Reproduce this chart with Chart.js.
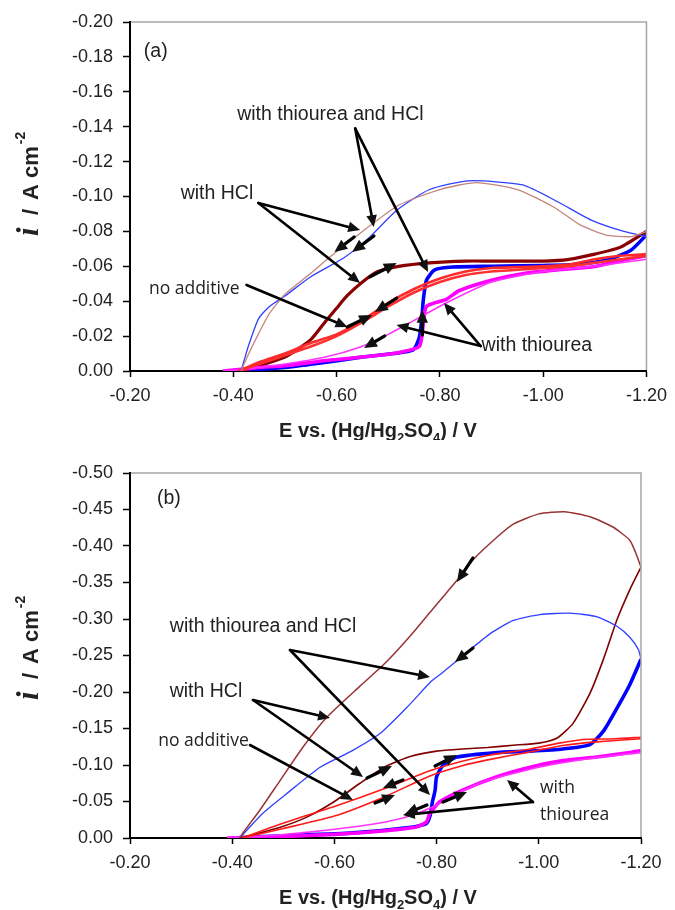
<!DOCTYPE html>
<html>
<head>
<meta charset="utf-8">
<script src="https://cdn.jsdelivr.net/npm/chart.js@4.4.1/dist/chart.umd.min.js"></script>
<style>
  html, body { margin: 0; padding: 0; background: #fff; }
  #wrap { position: relative; width: 675px; height: 910px; }
  canvas { position: absolute; left: 0; }
  #chartA { top: 0; }
  #chartB { top: 440px; }
</style>
</head>
<body>
<div id="wrap">
  <canvas id="chartA" width="675" height="440"></canvas>
  <canvas id="chartB" width="675" height="470"></canvas>
</div>
<script>
// ---------- panel (a): E / V and i / A cm-2 ----------
const aNoAddFwdE = [-0.41, -0.45, -0.50, -0.55, -0.60, -0.65, -0.70, -0.75, -0.80, -0.85, -0.90, -0.95, -1.00, -1.05, -1.10, -1.15, -1.20];
const aNoAddFwdI = [0.000, -0.005, -0.010, -0.016, -0.021, -0.029, -0.039, -0.047, -0.053, -0.057, -0.059, -0.0595, -0.060, -0.061, -0.064, -0.066, -0.067];
const aNoAddRevE = [-1.20, -1.15, -1.10, -1.05, -1.00, -0.95, -0.90, -0.85, -0.80, -0.75, -0.70, -0.65, -0.60, -0.55, -0.50, -0.45, -0.41];
const aNoAddRevI = [-0.066, -0.064, -0.062, -0.060, -0.059, -0.058, -0.057, -0.055, -0.051, -0.045, -0.037, -0.028, -0.020, -0.014, -0.009, -0.004, 0.000];

const aHclFwdE = [-0.42, -0.45, -0.50, -0.55, -0.58, -0.60, -0.62, -0.65, -0.68, -0.72, -0.78, -0.85, -0.90, -1.00, -1.05, -1.10, -1.15, -1.20];
const aHclFwdI = [0.000, -0.003, -0.008, -0.018, -0.029, -0.036, -0.043, -0.051, -0.057, -0.060, -0.062, -0.063, -0.063, -0.063, -0.064, -0.067, -0.071, -0.080];
const aHclRevE = [-1.20, -1.17, -1.12, -1.07, -1.02, -0.95, -0.87, -0.80, -0.72, -0.65, -0.59, -0.55, -0.50, -0.47, -0.45, -0.43, -0.415];
const aHclRevI = [-0.080, -0.077, -0.078, -0.084, -0.094, -0.104, -0.108, -0.104, -0.095, -0.080, -0.066, -0.056, -0.044, -0.033, -0.022, -0.010, 0.000];

const aThioFwdE = [-0.38, -0.45, -0.50, -0.58, -0.65, -0.71, -0.76, -0.768, -0.774, -0.812, -0.837, -0.90, -0.965, -1.028, -1.093, -1.156, -1.20];
const aThioFwdI = [0.000, -0.002, -0.003, -0.006, -0.008, -0.010, -0.014, -0.0275, -0.037, -0.041, -0.046, -0.052, -0.056, -0.058, -0.0596, -0.0636, -0.066];
const aThioRevE = [-1.20, -1.10, -1.00, -0.90, -0.812, -0.741, -0.70, -0.646, -0.578, -0.50, -0.42, -0.38];
const aThioRevI = [-0.064, -0.060, -0.057, -0.051, -0.039, -0.0275, -0.021, -0.0138, -0.008, -0.004, -0.001, 0.000];

const aThioHclFwdE = [-0.40, -0.45, -0.50, -0.58, -0.65, -0.71, -0.748, -0.76, -0.765, -0.768, -0.774, -0.79, -0.825, -0.90, -1.00, -1.06, -1.123, -1.169, -1.20];
const aThioHclFwdI = [0.000, -0.001, -0.002, -0.005, -0.008, -0.010, -0.012, -0.019, -0.030, -0.041, -0.052, -0.058, -0.0596, -0.060, -0.0605, -0.061, -0.0636, -0.069, -0.078];
const aThioHclRevE = [-1.20, -1.156, -1.093, -1.028, -0.96, -0.856, -0.78, -0.716, -0.665, -0.615, -0.55, -0.50, -0.47, -0.449, -0.43, -0.42, -0.415];
const aThioHclRevI = [-0.077, -0.080, -0.0865, -0.097, -0.1066, -0.109, -0.104, -0.092, -0.077, -0.065, -0.054, -0.043, -0.037, -0.030, -0.015, -0.005, 0.000];

// ---------- panel (b) ----------
const bNoAddFwdE = [-0.42, -0.50, -0.60, -0.70, -0.787, -0.85, -0.90, -0.983, -1.05, -1.10, -1.20];
const bNoAddFwdI = [0.000, -0.013, -0.030, -0.057, -0.085, -0.099, -0.107, -0.118, -0.127, -0.131, -0.136];
const bNoAddRevE = [-1.20, -1.15, -1.087, -1.04, -0.983, -0.90, -0.85, -0.787, -0.70, -0.60, -0.52, -0.47, -0.42];
const bNoAddRevI = [-0.138, -0.136, -0.135, -0.130, -0.122, -0.113, -0.105, -0.092, -0.068, -0.043, -0.025, -0.013, 0.000];

const bHclFwdE = [-0.415, -0.45, -0.50, -0.55, -0.60, -0.65, -0.70, -0.75, -0.80, -0.85, -0.90, -0.95, -1.00, -1.036, -1.067, -1.10, -1.126, -1.153, -1.178, -1.20];
const bHclFwdI = [0.000, -0.006, -0.016, -0.030, -0.050, -0.075, -0.098, -0.112, -0.119, -0.122, -0.124, -0.127, -0.130, -0.137, -0.157, -0.198, -0.244, -0.299, -0.340, -0.371];
const bHclRevE = [-1.20, -1.19, -1.178, -1.145, -1.10, -1.05, -1.00, -0.95, -0.918, -0.871, -0.84, -0.80, -0.75, -0.70, -0.65, -0.586, -0.539, -0.494, -0.454, -0.421, -0.415];
const bHclRevI = [-0.371, -0.390, -0.408, -0.426, -0.440, -0.447, -0.444, -0.430, -0.412, -0.381, -0.353, -0.320, -0.278, -0.240, -0.208, -0.166, -0.125, -0.079, -0.038, -0.007, 0.000];

const bThioFwdE = [-0.39, -0.50, -0.60, -0.70, -0.76, -0.78, -0.787, -0.807, -0.852, -0.918, -0.983, -1.047, -1.114, -1.178, -1.20];
const bThioFwdI = [0.000, -0.002, -0.005, -0.010, -0.015, -0.022, -0.034, -0.050, -0.066, -0.084, -0.097, -0.106, -0.111, -0.117, -0.120];
const bThioRevE = [-1.20, -1.10, -1.00, -0.90, -0.85, -0.80, -0.742, -0.70, -0.636, -0.55, -0.45, -0.39];
const bThioRevI = [-0.117, -0.109, -0.097, -0.079, -0.064, -0.045, -0.029, -0.022, -0.015, -0.008, -0.002, 0.000];

const bThioHclFwdE = [-0.40, -0.50, -0.636, -0.754, -0.78, -0.787, -0.792, -0.797, -0.80, -0.813, -0.84, -0.918, -0.983, -1.047, -1.10, -1.126, -1.153, -1.178, -1.20];
const bThioHclFwdI = [0.000, -0.003, -0.007, -0.015, -0.020, -0.030, -0.050, -0.065, -0.084, -0.100, -0.111, -0.117, -0.119, -0.122, -0.128, -0.146, -0.178, -0.210, -0.245];
const bThioHclRevE = [-1.20, -1.195, -1.178, -1.153, -1.114, -1.061, -1.002, -0.95, -0.905, -0.852, -0.807, -0.79, -0.742, -0.689, -0.636, -0.572, -0.507, -0.46, -0.429, -0.415];
const bThioHclRevI = [-0.245, -0.258, -0.275, -0.290, -0.303, -0.308, -0.306, -0.298, -0.280, -0.250, -0.224, -0.215, -0.179, -0.143, -0.120, -0.097, -0.061, -0.034, -0.011, 0.000];

const SANS = '"Liberation Sans", Arial, sans-serif';
const ALT = '"Open Sans", "Noto Sans", sans-serif';

// annotations, in data units (E, i)
const annA = {
	texts: [
		['(a)', -0.2268, -0.1831, 'left', '19.5px ' + SANS],
		['with thiourea and HCl', -0.588, -0.1467, 'center', '19.5px ' + SANS],
		['with HCl', -0.3683, -0.1017, 'center', '19.5px ' + SANS],
		['no additive', -0.3243, -0.047, 'center', '17.5px ' + ALT],
		['with thiourea', -0.9878, -0.0143, 'center', '19.5px ' + SANS],
	],
	lines: [
		[-0.636, -0.139, -0.672, -0.0825],
		[-0.636, -0.139, -0.777, -0.0567],
		[-0.4486, -0.0963, -0.6455, -0.0808],
		[-0.4486, -0.0963, -0.6455, -0.0504],
		[-0.4256, -0.0493, -0.621, -0.0252],
		[-0.879, -0.0143, -0.808, -0.039],
		[-0.879, -0.0143, -0.716, -0.0264],
	],
	dirs: [
		[-0.634, -0.0768, -0.5958, -0.0682],
		[-0.6723, -0.0774, -0.6302, -0.0682],
		[-0.6646, -0.0539, -0.7163, -0.0619],
		[-0.7163, -0.0418, -0.6742, -0.0338],
		[-0.6206, -0.0252, -0.6685, -0.0321],
		[-0.6933, -0.0201, -0.6532, -0.0132],
		[-0.766, -0.0206, -0.766, -0.035],
	],
};

const annB = {
	texts: [
		['(b)', -0.2528, -0.4644, 'left', '19.5px ' + SANS],
		['with thiourea and HCl', -0.4603, -0.289, 'center', '19.5px ' + SANS],
		['with HCl', -0.3487, -0.200, 'center', '19.5px ' + SANS],
		['no additive', -0.3438, -0.1329, 'center', '17.5px ' + ALT],
		['with', -1.0023, -0.0685, 'left', '17.5px ' + ALT],
		['thiourea', -1.0023, -0.0315, 'left', '17.5px ' + ALT],
	],
	lines: [
		[-0.5131, -0.2575, -0.7871, -0.2205],
		[-0.5131, -0.2575, -0.7871, -0.0589],
		[-0.4407, -0.189, -0.5914, -0.1644],
		[-0.4407, -0.189, -0.656, -0.0836],
		[-0.4348, -0.1274, -0.6364, -0.0521],
		[-0.9886, -0.0493, -0.9378, -0.0795],
		[-0.9886, -0.0493, -0.7342, -0.0315],
	],
	dirs: [
		[-0.8712, -0.3836, -0.8399, -0.3507],
		[-0.8712, -0.2603, -0.836, -0.2411],
		[-0.6638, -0.0822, -0.7127, -0.0986],
		[-0.7342, -0.0795, -0.6951, -0.0685],
		[-0.6795, -0.0479, -0.7186, -0.0589],
		[-0.7812, -0.0452, -0.7382, -0.0329],
		[-0.8125, -0.0493, -0.8595, -0.063],
		[-0.7969, -0.0986, -0.8399, -0.1137],
	],
};

function series(E, I, color, width) {
	return {
		data: E.map((e, k) => ({ x: e, y: I[k] })),
		borderColor: color,
		backgroundColor: color,
		borderWidth: width,
		showLine: true,
		pointRadius: 0,
		tension: 0.2,
		fill: false,
	};
}

function arrow(ctx, x1, y1, x2, y2, w, head) {
	const ang = Math.atan2(y2 - y1, x2 - x1);
	ctx.lineWidth = w;
	ctx.beginPath();
	ctx.moveTo(x1, y1);
	ctx.lineTo(x2 - Math.cos(ang) * head * 0.7, y2 - Math.sin(ang) * head * 0.7);
	ctx.stroke();
	ctx.beginPath();
	ctx.moveTo(x2, y2);
	ctx.lineTo(x2 - head * Math.cos(ang - 0.42), y2 - head * Math.sin(ang - 0.42));
	ctx.lineTo(x2 - head * Math.cos(ang + 0.42), y2 - head * Math.sin(ang + 0.42));
	ctx.closePath();
	ctx.fill();
}

function drawXTitle(ctx, cx, baseline) {
	const parts = [
		['E vs. (Hg/Hg', 20, 0],
		['2', 13, 5],
		['SO', 20, 0],
		['4', 13, 5],
		[') / V', 20, 0],
	];
	let total = 0;
	parts.forEach(p => { ctx.font = 'bold ' + p[1] + 'px ' + SANS; total += ctx.measureText(p[0]).width; });
	let x = cx - total / 2;
	ctx.textAlign = 'left';
	ctx.textBaseline = 'alphabetic';
	parts.forEach(p => {
		ctx.font = 'bold ' + p[1] + 'px ' + SANS;
		ctx.fillText(p[0], x, baseline + p[2]);
		x += ctx.measureText(p[0]).width;
	});
}

function drawYTitle(ctx, baseX, bottomY) {
	ctx.save();
	ctx.translate(baseX, bottomY);
	ctx.rotate(-Math.PI / 2);
	ctx.textAlign = 'left';
	ctx.textBaseline = 'alphabetic';
	ctx.font = 'italic bold 31px "Liberation Serif", serif';
	ctx.fillText('i', 2, 0);
	ctx.font = 'bold 22px ' + SANS;
	ctx.fillText('/', 23, 0);
	ctx.fillText('A cm', 38, 0);
	const w = ctx.measureText('A cm').width;
	ctx.font = 'bold 14px ' + SANS;
	ctx.fillText('-2', 38 + w + 2, -13);
	ctx.restore();
}

function decor(ann, titleBase, yTitleBottom) {
	return {
		id: 'decor',
		afterDraw(chart) {
			const { ctx, chartArea: ca } = chart;
			const sx = chart.scales.x, sy = chart.scales.y;
			const px = v => sx.getPixelForValue(v);
			const py = v => sy.getPixelForValue(v);
			ctx.save();
			// grey frame top and right
			ctx.strokeStyle = '#a6a6a6';
			ctx.lineWidth = 1.5;
			ctx.beginPath();
			ctx.moveTo(ca.left + 1, ca.top);
			ctx.lineTo(ca.right, ca.top);
			ctx.lineTo(ca.right, ca.bottom - 1);
			ctx.stroke();

			ctx.fillStyle = '#111';
			ctx.strokeStyle = '#000';
			ctx.lineCap = 'round';
			ann.lines.forEach(l => arrow(ctx, px(l[0]), py(l[1]), px(l[2]), py(l[3]), 2.6, 13));
			ann.dirs.forEach(l => arrow(ctx, px(l[0]), py(l[1]), px(l[2]), py(l[3]), 3.2, 14));

			ctx.fillStyle = '#222';
			ctx.textBaseline = 'middle';
			ann.texts.forEach(t => {
				ctx.font = t[4];
				ctx.textAlign = t[3];
				ctx.fillText(t[0], px(t[1]), py(t[2]));
			});

			drawXTitle(ctx, 378, titleBase);
			drawYTitle(ctx, 38, yTitleBottom);
			ctx.restore();
		}
	};
}

function makeChart(id, datasets, yMin, yStep, pad, xHeight, ann, titleBase, yTitleBottom) {
	const fmt = v => (Math.abs(v) < 1e-9 ? 0 : v).toFixed(2);
	return new Chart(document.getElementById(id).getContext('2d'), {
		type: 'scatter',
		data: { datasets },
		options: {
			responsive: false,
			animation: false,
			devicePixelRatio: 1,
			layout: { padding: pad },
			plugins: { legend: { display: false }, tooltip: { enabled: false } },
			scales: {
				x: {
					type: 'linear',
					min: -1.2,
					max: -0.2,
					reverse: true,
					afterFit: s => { s.height = xHeight; },
					ticks: { stepSize: 0.2, callback: fmt, color: '#222', padding: 8, maxRotation: 0,
						font: { family: SANS, size: 18 } },
					grid: { drawOnChartArea: false, drawTicks: true, tickLength: 6, tickColor: '#000', tickWidth: 1.5 },
					border: { display: true, color: '#000', width: 2 },
				},
				y: {
					type: 'linear',
					min: yMin,
					max: 0,
					reverse: true,
					afterFit: s => { s.width = 130; },
					ticks: { stepSize: yStep, callback: fmt, color: '#222', padding: 10,
						font: { family: SANS, size: 18 } },
					grid: { drawOnChartArea: false, drawTicks: true, tickLength: 7, tickColor: '#000', tickWidth: 1.5 },
					border: { display: true, color: '#000', width: 2 },
				},
			},
		},
		plugins: [decor(ann, titleBase, yTitleBottom)],
	});
}

const dsA = [
	series(aHclRevE, aHclRevI, '#c4857c', 1.3),
	series(aThioHclRevE, aThioHclRevI, '#3040ff', 1.3),
	series(aNoAddFwdE, aNoAddFwdI, '#ff2a2a', 2.6),
	series(aNoAddRevE, aNoAddRevI, '#ff3030', 2.6),
	series(aThioRevE, aThioRevI, '#ff33ff', 1.6),
	series(aThioFwdE, aThioFwdI, '#ff00ff', 3.6),
	series(aHclFwdE, aHclFwdI, '#8b0000', 3.2),
	series(aThioHclFwdE, aThioHclFwdI, '#0000ff', 3.6),
];

const dsB = [
	series(bHclRevE, bHclRevI, '#993333', 1.5),
	series(bThioHclRevE, bThioHclRevI, '#3040ff', 1.3),
	series(bNoAddFwdE, bNoAddFwdI, '#ff1a1a', 1.6),
	series(bNoAddRevE, bNoAddRevI, '#ff1a1a', 1.6),
	series(bHclFwdE, bHclFwdI, '#800000', 1.6),
	series(bThioRevE, bThioRevI, '#ff33ff', 1.6),
	series(bThioFwdE, bThioFwdI, '#ff00ff', 3.6),
	series(bThioHclFwdE, bThioHclFwdI, '#0000ff', 3.6),
];

makeChart('chartA', dsA, -0.2, 0.02, { left: 0, top: 22, right: 22, bottom: 0 }, 69, annA, 437, 238);
makeChart('chartB', dsB, -0.5, 0.05, { left: 0, top: 33, right: 34, bottom: 0 }, 72, annB, 464, 262);
</script>
</body>
</html>
